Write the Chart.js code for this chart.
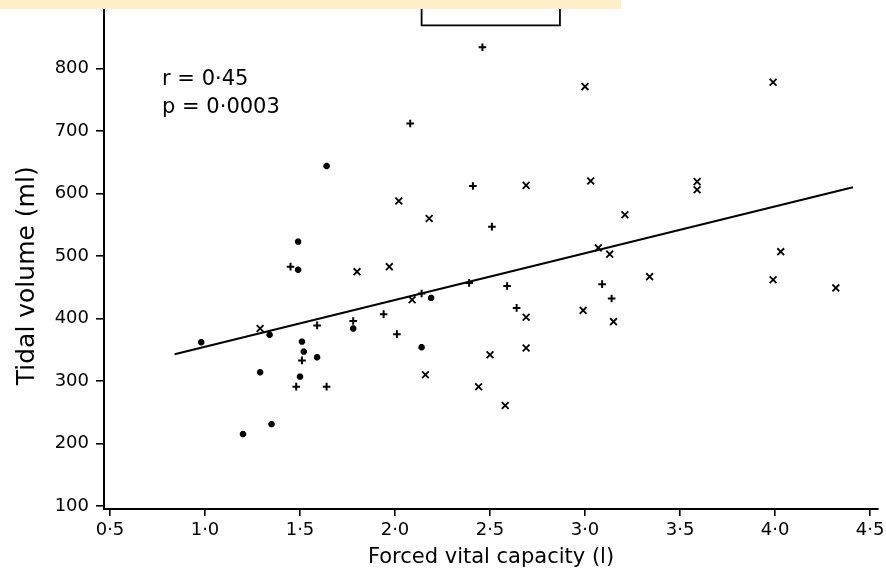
<!DOCTYPE html>
<html>
<head>
<meta charset="utf-8">
<title>Tidal volume vs forced vital capacity</title>
<script src="https://cdn.jsdelivr.net/npm/chart.js@4.4.1/dist/chart.umd.min.js"></script>
<style>
  html, body { margin: 0; padding: 0; background: #fff; }
  #wrap { position: relative; width: 886px; height: 570px; }
  #band { position: absolute; left: 0; top: 0; width: 621px; height: 9px; background: #fff0c9; }
</style>
</head>
<body>
<div id="wrap">
  <canvas id="chart" width="886" height="570"></canvas>
  <div id="band"></div>
</div>
<script>
// Forced vital capacity (l) against tidal volume (ml), three marker groups
const starFvc = [0.98, 1.20, 1.35, 1.29, 1.34, 1.49, 1.49, 1.51, 1.52, 1.59, 1.50, 1.64, 1.78, 2.14, 2.19];
const starVt  = [362, 215, 231, 314, 374, 523, 478, 363, 347, 338, 307, 644, 384, 354, 433];

const plusFvc = [2.46, 2.08, 2.41, 2.51, 1.45, 2.14, 1.59, 1.78, 1.94, 2.01, 1.51, 1.48, 1.64, 2.39, 2.59, 2.64, 3.09, 3.14];
const plusVt  = [834, 712, 612, 547, 483, 440, 389, 396, 407, 375, 333, 291, 291, 457, 452, 417, 455, 432];

const crossFvc = [3.00, 3.99, 2.69, 3.03, 2.02, 3.59, 3.59, 3.21, 2.18, 4.03, 3.07, 3.13, 1.80, 1.97,
                  2.09, 1.29, 3.34, 3.99, 4.32, 2.69, 2.99, 3.15, 2.69, 2.50, 2.16, 2.44, 2.58];
const crossVt  = [771, 778, 613, 620, 588, 619, 606, 566, 560, 507, 513, 503, 475, 483,
                  430, 384, 467, 462, 449, 402, 413, 395, 353, 342, 310, 291, 261];

// regression line end points
const fitFvc = [0.84, 4.41];
const fitVt  = [343, 610];

const xTicks      = [0.5, 1.0, 1.5, 2.0, 2.5, 3.0, 3.5, 4.0, 4.5];
const xTickLabels = ['0·5', '1·0', '1·5', '2·0', '2·5', '3·0', '3·5', '4·0', '4·5'];
const yTicks      = [100, 200, 300, 400, 500, 600, 700, 800];
const yTickLabels = ['100', '200', '300', '400', '500', '600', '700', '800'];

const statsLines = ['r = 0·45', 'p = 0·0003'];

const INK = '#000';
const FONT = '"DejaVu Sans", "Liberation Sans", sans-serif';

const toXY = (xs, ys) => xs.map((v, i) => ({ x: v, y: ys[i] }));

// y title, r/p annotation and the bottom of the key box
const frameExtras = {
  id: 'frameExtras',
  afterDraw(chart) {
    const { ctx, chartArea, scales: { x, y } } = chart;

    ctx.save();
    ctx.fillStyle = INK;
    ctx.font = '25px ' + FONT;
    ctx.textAlign = 'center';
    ctx.textBaseline = 'middle';
    ctx.translate(27, (chartArea.top + chartArea.bottom) / 2 + 18);
    ctx.rotate(-Math.PI / 2);
    ctx.fillText('Tidal volume (ml)', 0, 0);
    ctx.restore();

    ctx.save();
    ctx.fillStyle = INK;
    ctx.font = '21px ' + FONT;
    ctx.textAlign = 'left';
    ctx.textBaseline = 'alphabetic';
    ctx.fillText(statsLines[0], x.getPixelForValue(0.774), y.getPixelForValue(774));
    ctx.fillText(statsLines[1], x.getPixelForValue(0.774), y.getPixelForValue(728));
    ctx.restore();

    // key box, only its lower part is inside the frame
    const bx0 = x.getPixelForValue(2.14);
    const bx1 = x.getPixelForValue(2.868);
    const by = y.getPixelForValue(869);
    ctx.save();
    ctx.strokeStyle = INK;
    ctx.lineWidth = 1.8;
    ctx.beginPath();
    ctx.moveTo(bx0, 0);
    ctx.lineTo(bx0, by);
    ctx.lineTo(bx1, by);
    ctx.lineTo(bx1, 0);
    ctx.stroke();
    ctx.restore();
  },
};

const tickFont = { family: FONT, size: 18 };

new Chart(document.getElementById('chart'), {
  type: 'scatter',
  data: {
    datasets: [
      {
        data: toXY(fitFvc, fitVt),
        showLine: true,
        borderColor: INK,
        borderWidth: 2,
        pointRadius: 0,
      },
      {
        data: toXY(starFvc, starVt),
        pointStyle: 'star',
        pointRadius: 3.2,
        pointBorderWidth: 2.3,
        borderColor: INK,
        backgroundColor: INK,
      },
      {
        data: toXY(plusFvc, plusVt),
        pointStyle: 'cross',
        pointRadius: 3.8,
        pointBorderWidth: 2,
        borderColor: INK,
        backgroundColor: INK,
      },
      {
        data: toXY(crossFvc, crossVt),
        pointStyle: 'crossRot',
        pointRadius: 4.8,
        pointBorderWidth: 1.8,
        borderColor: INK,
        backgroundColor: INK,
      },
    ],
  },
  options: {
    responsive: false,
    animation: false,
    layout: { padding: { top: 0, right: 8, bottom: 0, left: 0 } },
    plugins: {
      legend: { display: false },
      tooltip: { enabled: false },
    },
    scales: {
      x: {
        type: 'linear',
        min: 0.4684,
        max: 4.542,
        afterBuildTicks(scale) { scale.ticks = xTicks.map(v => ({ value: v })); },
        afterFit(scale) {
          scale.height = 61;
          scale.paddingLeft = 0;
          scale.paddingRight = 0;
        },
        ticks: {
          autoSkip: false,
          maxRotation: 0,
          padding: 4,
          color: INK,
          font: tickFont,
          callback: (val, i) => xTickLabels[i],
        },
        grid: { drawOnChartArea: false, tickLength: 7, color: INK, lineWidth: 1.6 },
        border: { color: INK, width: 2 },
        title: {
          display: true,
          text: 'Forced vital capacity (l)',
          color: INK,
          font: { family: FONT, size: 21 },
          padding: { top: 0, bottom: 0 },
        },
      },
      y: {
        type: 'linear',
        min: 95.3,
        max: 899,
        afterBuildTicks(scale) { scale.ticks = yTicks.map(v => ({ value: v })); },
        afterFit(scale) {
          scale.width = 104;
          scale.paddingTop = 0;
          scale.paddingBottom = 0;
        },
        ticks: {
          autoSkip: false,
          padding: 7,
          color: INK,
          font: tickFont,
          callback: (val, i) => yTickLabels[i],
        },
        grid: { drawOnChartArea: false, tickLength: 8, color: INK, lineWidth: 1.6 },
        border: { color: INK, width: 2 },
      },
    },
  },
  plugins: [frameExtras],
});
</script>
</body>
</html>
